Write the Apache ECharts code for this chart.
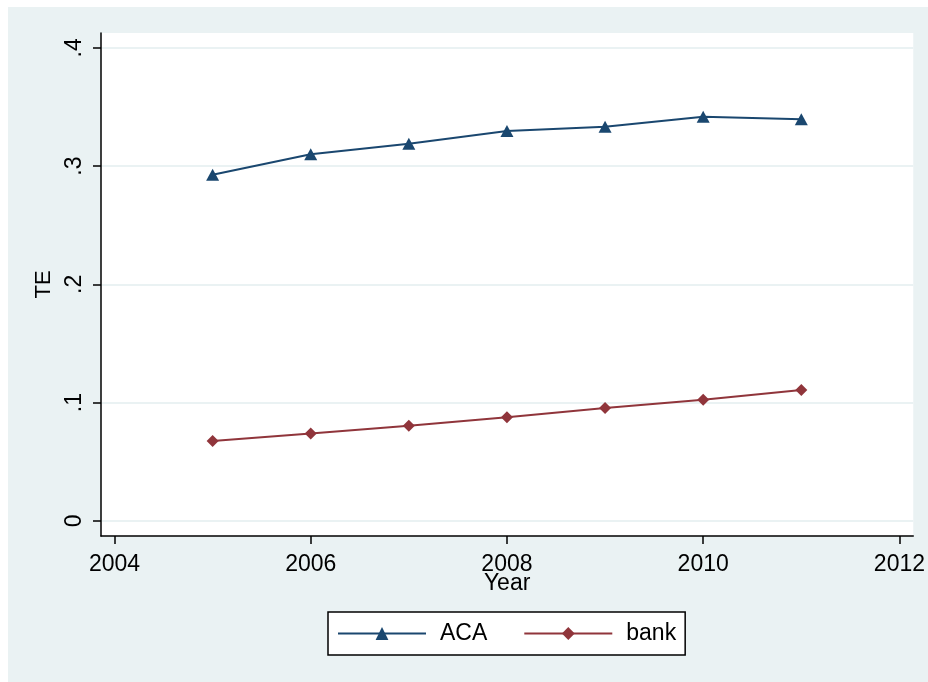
<!DOCTYPE html>
<html>
<head>
<meta charset="utf-8">
<script src="https://cdn.jsdelivr.net/npm/echarts@6/dist/echarts.min.js"></script>
<style>
html, body { margin: 0; padding: 0; background: #fff; }
#chart { width: 928px; height: 682px; }
</style>
</head>
<body>
<div id="chart"></div>
<script>
// values
const years = [2005, 2006, 2007, 2008, 2009, 2010, 2011]
const aca = [0.2927, 0.3100, 0.3190, 0.3297, 0.3333, 0.3418, 0.3396]
const bank = [0.0674, 0.0739, 0.0804, 0.0875, 0.0953, 0.1024, 0.1106]
const xTicks = [2004, 2006, 2008, 2010, 2012]
const yTicks = [0, 0.1, 0.2, 0.3, 0.4]
const yTickLabels = ['0', '.1', '.2', '.3', '.4']

const FONT = '"Liberation Sans", Arial, sans-serif'
const navy = '#1a476f'
const maroon = '#90353b'
const bg = '#eaf2f3'

function pairs (ys) {
  return years.map((y, i) => [y, ys[i]])
}

const chart = echarts.init(document.getElementById('chart'))
chart.setOption({
  backgroundColor: '#fff',
  animation: false,
  graphic: [
    {
      type: 'rect',
      z: -10,
      shape: { x: 8, y: 7, width: 920, height: 675 },
      style: { fill: bg }
    }
  ],
  grid: {
    left: 101,
    right: 14,
    top: 33,
    bottom: 146,
    show: true,
    backgroundColor: '#fff',
    borderWidth: 0
  },
  xAxis: {
    type: 'value',
    min: 2003.8625,
    max: 2012.141,
    name: 'Year',
    nameLocation: 'middle',
    nameGap: 36,
    nameMoveOverlap: false,
    nameTextStyle: { fontFamily: FONT, fontSize: 23, color: '#000' },
    axisLine: { show: true, onZero: false, lineStyle: { color: '#000', width: 1.5 } },
    axisTick: { show: true, length: 8, lineStyle: { color: '#000', width: 1.5 }, customValues: xTicks },
    axisLabel: {
      customValues: xTicks,
      fontFamily: FONT,
      fontSize: 23,
      color: '#000',
      margin: 17,
      formatter: v => String(v)
    },
    splitLine: { show: false }
  },
  yAxis: {
    type: 'value',
    min: -0.0129,
    max: 0.4126,
    name: 'TE',
    nameLocation: 'middle',
    nameGap: 46,
    nameRotate: 90,
    nameTextStyle: { fontFamily: FONT, fontSize: 22, color: '#000' },
    axisLine: { show: true, onZero: false, lineStyle: { color: '#000', width: 1.5 } },
    axisTick: { show: true, length: 8, lineStyle: { color: '#000', width: 1.5 }, customValues: yTicks },
    axisLabel: {
      customValues: yTicks,
      rotate: 90,
      fontFamily: FONT,
      fontSize: 23,
      color: '#000',
      margin: 15,
      formatter: v => yTickLabels[yTicks.findIndex(t => Math.abs(t - v) < 1e-6)]
    },
    splitLine: { show: true, lineStyle: { color: bg, width: 2 } }
  },
  legend: {
    left: 328,
    top: 612,
    orient: 'horizontal',
    backgroundColor: '#fff',
    borderColor: '#000',
    borderWidth: 1.5,
    borderRadius: 0,
    padding: [10, 9, 10, 9],
    itemWidth: 88,
    itemHeight: 16,
    itemGap: 36,
    textStyle: { fontFamily: FONT, fontSize: 23, color: '#000', padding: [0, 0, 0, 9] },
    data: ['ACA', 'bank']
  },
  series: [
    {
      name: 'ACA',
      type: 'line',
      data: pairs(aca),
      symbol: 'triangle',
      symbolSize: [13, 12],
      lineStyle: { color: navy, width: 2 },
      itemStyle: { color: navy }
    },
    {
      name: 'bank',
      type: 'line',
      data: pairs(bank),
      symbol: 'diamond',
      symbolSize: 12,
      lineStyle: { color: maroon, width: 2 },
      itemStyle: { color: maroon }
    }
  ]
})
</script>
</body>
</html>
